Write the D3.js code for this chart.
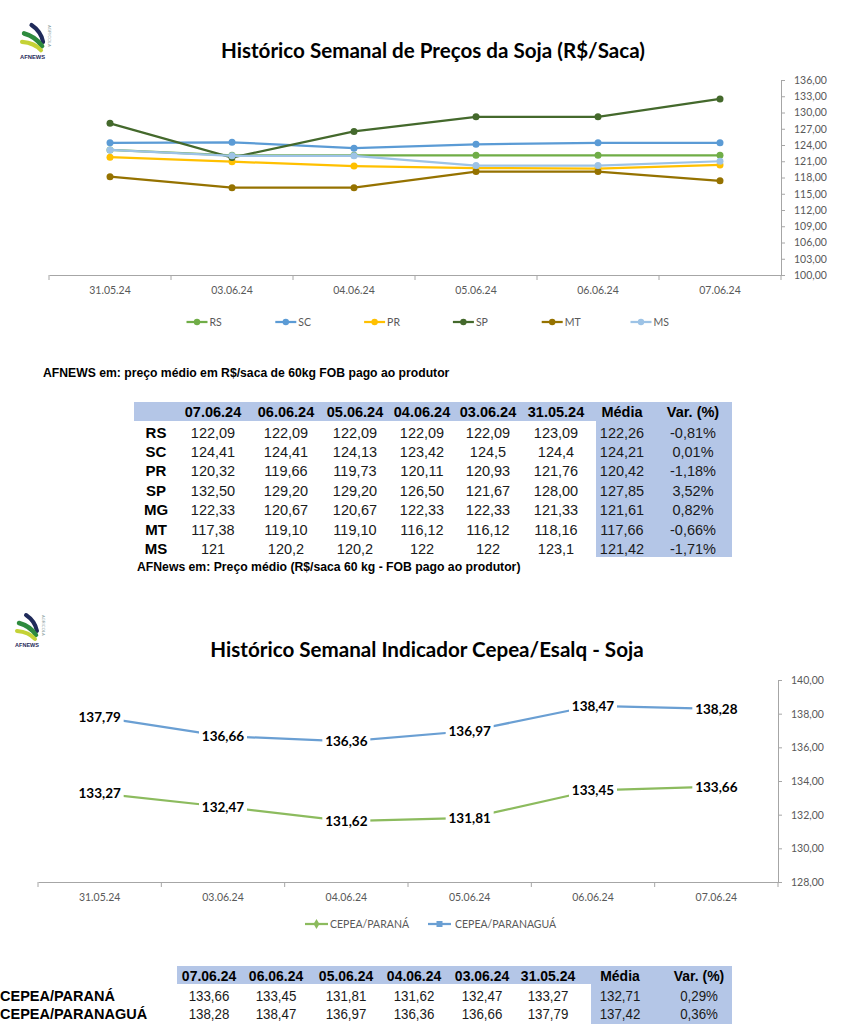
<!DOCTYPE html>
<html><head><meta charset="utf-8">
<script src="https://cdn.jsdelivr.net/npm/d3@7"></script>
<style>body{margin:0;background:#fff}svg{display:block}</style>
</head><body>
<script>
// ---------- DATA ----------
const dates = ["31.05.24","03.06.24","04.06.24","05.06.24","06.06.24","07.06.24"];
const seriesNames = ["RS","SC","PR","SP","MT","MS"];
const RS = [123.09,122.09,122.09,122.09,122.09,122.09];
const SC = [124.40,124.50,123.42,124.13,124.41,124.41];
const PR = [121.76,120.93,120.11,119.73,119.66,120.32];
const SP = [128.00,121.67,126.50,129.20,129.20,132.50];
const MT = [118.16,116.12,116.12,119.10,119.10,117.38];
const MS = [123.10,122.00,122.00,120.20,120.20,121.00];
const yTicks1 = [100,103,106,109,112,115,118,121,124,127,130,133,136];

const cepeaNames = ["CEPEA/PARANÁ","CEPEA/PARANAGUÁ"];
const parana = [133.27,132.47,131.62,131.81,133.45,133.66];
const paranagua = [137.79,136.66,136.36,136.97,138.47,138.28];
const yTicks2 = [128,130,132,134,136,138,140];

const tableHeader = ["07.06.24","06.06.24","05.06.24","04.06.24","03.06.24","31.05.24","Média","Var. (%)"];
const table1Rows = ["RS","SC","PR","SP","MG","MT","MS"];
const table1Values = [
 ["122,09","122,09","122,09","122,09","122,09","123,09","122,26","-0,81%"],
 ["124,41","124,41","124,13","123,42","124,5","124,4","124,21","0,01%"],
 ["120,32","119,66","119,73","120,11","120,93","121,76","120,42","-1,18%"],
 ["132,50","129,20","129,20","126,50","121,67","128,00","127,85","3,52%"],
 ["122,33","120,67","120,67","122,33","122,33","121,33","121,61","0,82%"],
 ["117,38","119,10","119,10","116,12","116,12","118,16","117,66","-0,66%"],
 ["121","120,2","120,2","122","122","123,1","121,42","-1,71%"]
];
const table2Values = [
 ["133,66","133,45","131,81","131,62","132,47","133,27","132,71","0,29%"],
 ["138,28","138,47","136,97","136,36","136,66","137,79","137,42","0,36%"]
];

// ---------- SETUP ----------
const W = 858, H = 1024;
const svg = d3.select("body").append("svg").attr("width", W).attr("height", H);
svg.append("rect").attr("width", W).attr("height", H).attr("fill", "#fff");
const loc = d3.formatLocale({decimal:",", thousands:".", grouping:[3], currency:["R$",""]});
const fmt = loc.format(".2f");
const chartFont = "Lato, 'Open Sans', sans-serif";
const tableFont = "'Liberation Sans', Arial, sans-serif";
const axisColor = "#a6a6a6", labelColor = "#595959";

// narrow text: Liberation Sans condensed horizontally
function narrowText(g, x, y, txt, opts) {
  const t = g.append("text")
    .attr("transform", `translate(${x},${y}) scale(${opts.sx || 0.84},1)`)
    .attr("text-anchor", opts.anchor || "middle")
    .attr("font-family", tableFont).attr("font-size", opts.size || 14.5)
    .attr("fill", opts.fill || "#000").text(txt);
  if (opts.bold) t.attr("font-weight", "bold");
  return t;
}

function logo(x, y, s) {
  const g = svg.append("g").attr("transform", `translate(${x},${y}) scale(${s})`);
  g.append("path").attr("d","M10,1 Q19,7 21,17").attr("stroke","#1f2a5a").attr("stroke-width",4).attr("fill","none").attr("stroke-linecap","round");
  g.append("path").attr("d","M3,9 Q14,12 20,21").attr("stroke","#2e8b3e").attr("stroke-width",4.5).attr("fill","none").attr("stroke-linecap","round");
  g.append("path").attr("d","M1,17 Q13,18 19,25").attr("stroke","#c4d236").attr("stroke-width",4).attr("fill","none").attr("stroke-linecap","round");
  g.append("text").attr("x",11).attr("y",33).attr("text-anchor","middle").attr("font-family",tableFont).attr("font-size",5.5).attr("font-weight","bold").attr("fill","#1f2a5a").text("AFNEWS");
  g.append("text").attr("transform","translate(26,1) rotate(90)").attr("font-family",tableFont).attr("font-size",4).attr("fill","#8aa0a0").text("AGRÍCOLA");
}

// ---------- CHART 1 ----------
logo(21, 24, 1.05);
svg.append("text").attr("x", 433).attr("y", 58).attr("text-anchor","middle")
  .attr("font-family", chartFont).attr("font-weight","bold").attr("font-size", 20.6).attr("fill","#000")
  .text("Histórico Semanal de Preços da Soja (R$/Saca)");

const x1 = d3.scaleBand().domain(dates).range([49, 781]);
const y1 = d3.scaleLinear().domain([100, 136]).range([275, 80]);

const yAx1 = svg.append("g").attr("transform","translate(781,0)")
  .call(d3.axisRight(y1).tickValues(yTicks1).tickFormat(fmt).tickSize(4).tickPadding(9));
const xAx1 = svg.append("g").attr("transform","translate(0,275)")
  .call(d3.axisBottom(x1).tickSize(0).tickPadding(12));
[yAx1, xAx1].forEach(a => {
  a.select(".domain").attr("stroke", axisColor);
  a.selectAll(".tick line").attr("stroke", axisColor);
  a.selectAll("text").attr("font-family", chartFont).attr("font-size", 10.5).attr("fill", labelColor);
});
svg.append("g").selectAll("line").data(d3.range(dates.length + 1)).join("line")
  .attr("x1", i => x1.range()[0] + i * x1.step()).attr("x2", i => x1.range()[0] + i * x1.step())
  .attr("y1", 275).attr("y2", 280).attr("stroke", axisColor);

const series1 = [
  {name:"RS", values:RS, color:"#70ad47"},
  {name:"SC", values:SC, color:"#5b9bd5"},
  {name:"PR", values:PR, color:"#ffc000"},
  {name:"SP", values:SP, color:"#44692c"},
  {name:"MT", values:MT, color:"#957200"},
  {name:"MS", values:MS, color:"#9dc3e6"}
];
const line1 = d3.line().x((d,i) => x1(dates[i]) + x1.bandwidth()/2).y(d => y1(d));
series1.forEach(s => {
  const g = svg.append("g");
  g.append("path").attr("d", line1(s.values)).attr("fill","none").attr("stroke", s.color).attr("stroke-width", 2.25);
  g.selectAll("circle").data(s.values).join("circle")
    .attr("cx", (d,i) => x1(dates[i]) + x1.bandwidth()/2).attr("cy", d => y1(d)).attr("r", 3.5).attr("fill", s.color);
});
const leg1 = svg.append("g");
series1.forEach((s, i) => {
  const lx = 186.5 + i * 88.8, ly = 322;
  leg1.append("line").attr("x1", lx).attr("x2", lx + 21).attr("y1", ly).attr("y2", ly).attr("stroke", s.color).attr("stroke-width", 2.25);
  leg1.append("circle").attr("cx", lx + 10.5).attr("cy", ly).attr("r", 3.2).attr("fill", s.color);
  leg1.append("text").attr("x", lx + 23).attr("y", ly + 3.8).attr("font-family", chartFont).attr("font-size", 10.5).attr("fill", labelColor).text(s.name);
});

// ---------- NOTE + TABLE 1 ----------
svg.append("text").attr("x", 43).attr("y", 377).attr("font-family", tableFont).attr("font-weight","bold").attr("font-size", 12.2).attr("fill","#000")
  .text("AFNEWS em: preço médio em R$/saca de 60kg FOB pago ao produtor");

const blue = "#b4c6e7";
const cols1 = [213, 286, 355, 422, 488, 556, 622, 693];
const t1 = svg.append("g");
t1.append("rect").attr("x", 134).attr("y", 402).attr("width", 598).attr("height", 19).attr("fill", blue);
t1.append("rect").attr("x", 596).attr("y", 402).attr("width", 136).attr("height", 155).attr("fill", blue);
tableHeader.forEach((h, j) => {
  t1.append("text").attr("x", cols1[j]).attr("y", 417).attr("text-anchor","middle").attr("font-family", tableFont)
    .attr("font-weight","bold").attr("font-size", 14.5).attr("fill","#000").text(h);
});
table1Rows.forEach((r, i) => {
  const cy = 432 + i * 19.4;
  t1.append("text").attr("x", 156).attr("y", cy + 5.5).attr("text-anchor","middle").attr("font-family", tableFont)
    .attr("font-weight","bold").attr("font-size", 15).attr("fill","#000").text(r);
  table1Values[i].forEach((v, j) => {
    t1.append("text").attr("x", cols1[j]).attr("y", cy + 5.5).attr("text-anchor","middle").attr("font-family", tableFont)
      .attr("font-size", 14.5).attr("fill","#1a1a1a").text(v);
  });
});
narrowText(svg, 137, 571, "AFNews em: Preço médio (R$/saca 60 kg - FOB pago ao produtor)", {size: 13, bold: true, anchor: "start", sx: 0.94});

// ---------- CHART 2 ----------
logo(16, 614, 1.0);
svg.append("text").attr("x", 427).attr("y", 657).attr("text-anchor","middle")
  .attr("font-family", chartFont).attr("font-weight","bold").attr("font-size", 20.6).attr("fill","#000")
  .text("Histórico Semanal Indicador Cepea/Esalq - Soja");

const x2 = d3.scaleBand().domain(dates).range([38, 778]);
const y2 = d3.scaleLinear().domain([128, 140]).range([882, 680]);
const yAx2 = svg.append("g").attr("transform","translate(778,0)")
  .call(d3.axisRight(y2).tickValues(yTicks2).tickFormat(fmt).tickSize(4).tickPadding(9));
const xAx2 = svg.append("g").attr("transform","translate(0,882)")
  .call(d3.axisBottom(x2).tickSize(0).tickPadding(12));
[yAx2, xAx2].forEach(a => {
  a.select(".domain").attr("stroke", axisColor);
  a.selectAll(".tick line").attr("stroke", axisColor);
  a.selectAll("text").attr("font-family", chartFont).attr("font-size", 10.5).attr("fill", labelColor);
});
svg.append("g").selectAll("line").data(d3.range(dates.length + 1)).join("line")
  .attr("x1", i => x2.range()[0] + i * x2.step()).attr("x2", i => x2.range()[0] + i * x2.step())
  .attr("y1", 882).attr("y2", 887).attr("stroke", axisColor);

const series2 = [
  {name: cepeaNames[0], values: parana, color: "#8cbb5e", marker: "diamond"},
  {name: cepeaNames[1], values: paranagua, color: "#6a9fd3", marker: "square"}
];
const line2 = d3.line().x((d,i) => x2(dates[i]) + x2.bandwidth()/2).y(d => y2(d));
series2.forEach(s => {
  svg.append("path").attr("d", line2(s.values)).attr("fill","none").attr("stroke", s.color).attr("stroke-width", 2.25);
});
series2.forEach(s => {
  const g = svg.append("g");
  s.values.forEach((v, i) => {
    const cx = x2(dates[i]) + x2.bandwidth()/2, cy = y2(v);
    g.append("rect").attr("x", cx - 24).attr("y", cy - 10).attr("width", 48).attr("height", 20).attr("fill", "#fff");
    g.append("text").attr("x", cx).attr("y", cy + 5).attr("text-anchor","middle").attr("font-family", chartFont)
      .attr("font-weight","bold").attr("font-size", 13.5).attr("fill","#000").text(fmt(v));
  });
});
const leg2 = svg.append("g");
const leg2x = [305, 428], leg2t = [330, 455];
series2.forEach((s, i) => {
  const lx = leg2x[i], ly = 924;
  leg2.append("line").attr("x1", lx).attr("x2", lx + 23).attr("y1", ly).attr("y2", ly).attr("stroke", s.color).attr("stroke-width", 2.25);
  const sym = s.marker === "diamond" ? d3.symbolDiamond : d3.symbolSquare;
  leg2.append("path").attr("d", d3.symbol(sym, s.marker === "diamond" ? 30 : 36)()).attr("transform", `translate(${lx + 11.5},${ly})`).attr("fill", s.color);
  leg2.append("text").attr("x", leg2t[i]).attr("y", ly + 4).attr("font-family", chartFont).attr("font-size", 10.5).attr("fill", labelColor).text(s.name);
});

// ---------- TABLE 2 ----------
const cols2 = [209, 276, 346, 414, 482, 548, 620, 699];
const t2 = svg.append("g");
t2.append("rect").attr("x", 177).attr("y", 966).attr("width", 555).attr("height", 18).attr("fill", blue);
t2.append("rect").attr("x", 591).attr("y", 966).attr("width", 141).attr("height", 60).attr("fill", blue);
tableHeader.forEach((h, j) => {
  narrowText(t2, cols2[j], 981, h, {size: 15.5, bold: true, sx: 0.9});
});
cepeaNames.forEach((r, i) => {
  const cy = 995 + i * 18.5;
  t2.append("text").attr("x", 0).attr("y", cy + 5.5).attr("font-family", tableFont)
    .attr("font-weight","bold").attr("font-size", 14.5).attr("fill","#000").text(r);
  table2Values[i].forEach((v, j) => {
    narrowText(t2, cols2[j], cy + 5.8, v, {size: 15.5, sx: 0.86, fill: "#1a1a1a"});
  });
});
</script>
</body></html>
